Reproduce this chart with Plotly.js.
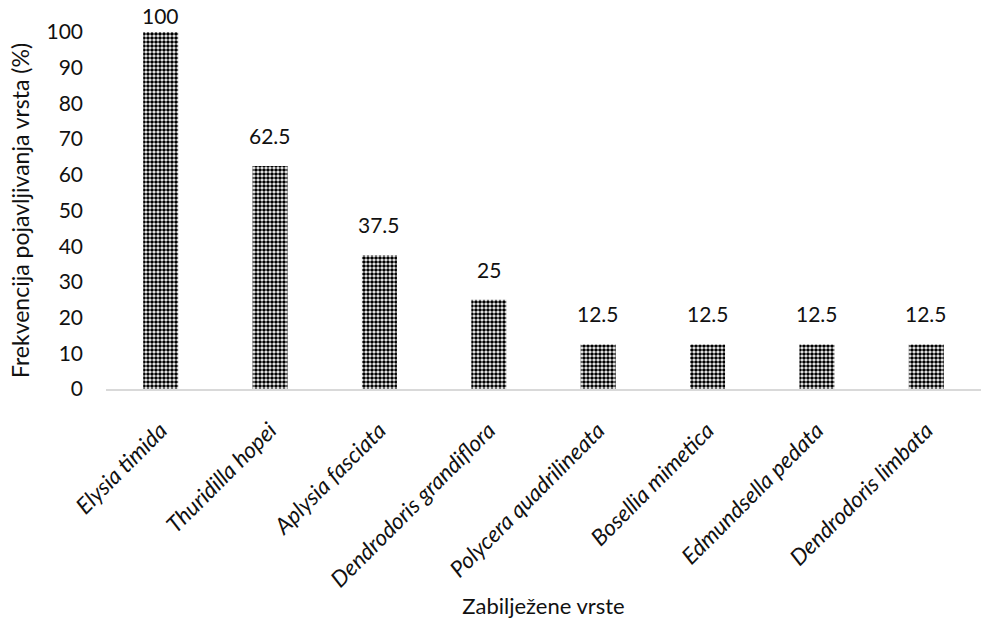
<!DOCTYPE html>
<html>
<head>
<meta charset="utf-8">
<script src="https://cdn.plot.ly/plotly-3.0.1.min.js"></script>
<style>html,body{margin:0;padding:0;background:#fff;}#chart{width:981px;height:635px;}</style>
</head>
<body>
<div id="chart"></div>
<script>
const species = ["Elysia timida", "Thuridilla hopei", "Aplysia fasciata", "Dendrodoris grandiflora", "Polycera quadrilineata", "Bosellia mimetica", "Edmundsella pedata", "Dendrodoris limbata"];
const frequency = [100, 62.5, 37.5, 25, 12.5, 12.5, 12.5, 12.5];
const yTicks = [0, 10, 20, 30, 40, 50, 60, 70, 80, 90, 100];

const FONT = "Lato, 'Open Sans', sans-serif";
const TXT = "#111";
const categories = species.map(s => "<i>" + s + "</i>");

const trace = {
  type: "bar",
  x: categories,
  y: frequency,
  marker: {
    color: "#ffffff",
    line: {width: 0},
    pattern: {shape: ".", size: 4, solidity: 0.65, fgcolor: "#000000", bgcolor: "#ffffff", fillmode: "replace"}
  },
  hoverinfo: "skip"
};

// value labels: "outside end", kept inside the chart area near the top
const yMax = 100;
const labelAnnotations = frequency.map((v, i) => ({
  x: categories[i],
  y: v,
  xref: "x",
  yref: "y",
  text: String(v),
  showarrow: false,
  yanchor: "bottom",
  yshift: Math.max(0, Math.min(16, (yMax - v) / yMax * 357 + 30 - 28)),
  font: {family: FONT, size: 21, color: TXT}
}));

const layout = {
  width: 981,
  height: 635,
  margin: {l: 106, r: 0, t: 32, b: 246},
  paper_bgcolor: "#fff",
  plot_bgcolor: "#fff",
  bargap: 0.68,
  showlegend: false,
  font: {family: FONT, size: 21, color: TXT},
  annotations: labelAnnotations,
  xaxis: {
    type: "category",
    tickangle: -45,
    tickfont: {family: FONT, size: 22.5, color: TXT},
    ticklabelstandoff: 18,
    showline: true,
    linecolor: "#d9d9d9",
    linewidth: 1.5,
    ticks: "",
    showgrid: false,
    zeroline: false,
    title: {text: "Zabilježene vrste", font: {family: FONT, size: 22, color: TXT}, standoff: 6}
  },
  yaxis: {
    range: [0, yMax],
    tickvals: yTicks,
    ticktext: yTicks.map(String),
    tickfont: {family: FONT, size: 21, color: TXT},
    showline: false,
    showgrid: false,
    zeroline: false,
    ticks: "",
    ticklabelstandoff: 22,
    title: {text: "Frekvencija pojavljivanja vrsta (%)", font: {family: FONT, size: 23, color: TXT}, standoff: 10}
  }
};

Plotly.newPlot("chart", [trace], layout, {displayModeBar: false, staticPlot: true});
</script>
</body>
</html>
